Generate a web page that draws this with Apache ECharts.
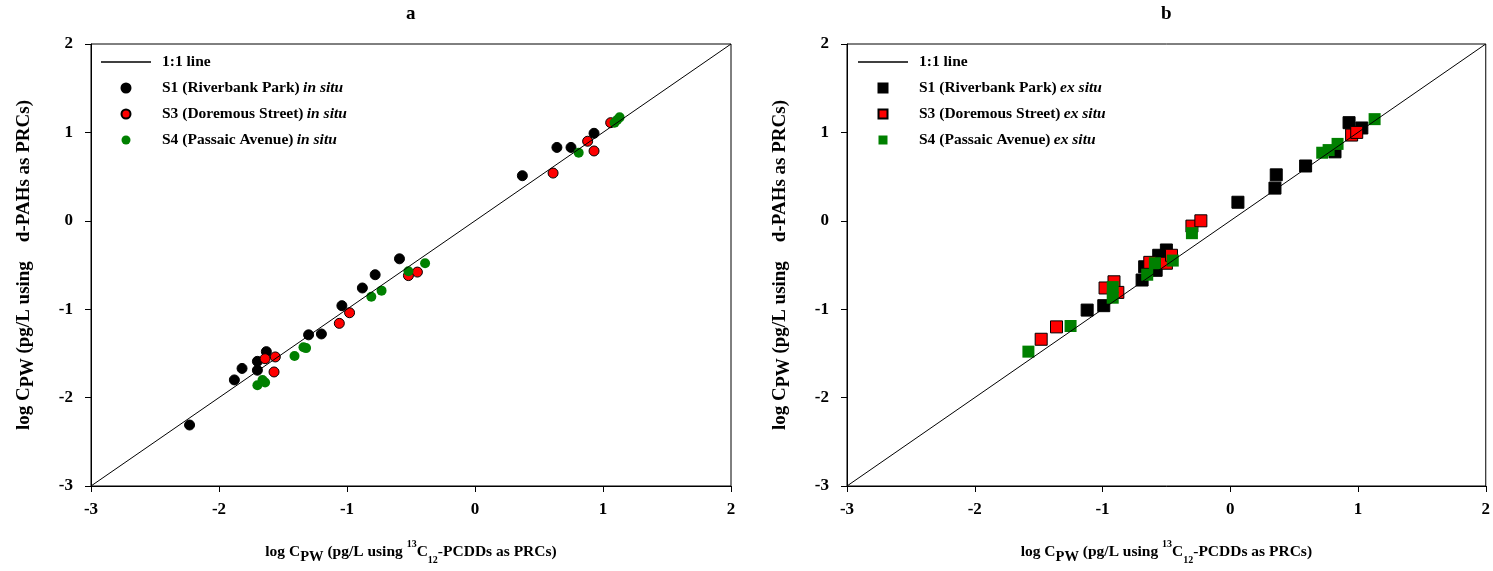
<!DOCTYPE html>
<html>
<head>
<meta charset="utf-8">
<script src="https://cdn.jsdelivr.net/npm/echarts@6/dist/echarts.min.js"></script>
<style>html,body{margin:0;padding:0;background:#fff}#c{width:1493px;height:571px}</style>
</head>
<body>
<div id="c"></div>
<script>
// ---- data (log Cpw values) ----
const ticks = [-3, -2, -1, 0, 1, 2];
const oneToOne = [[-3, -3], [2, 2]];
const sites = ['S1 (Riverbank Park)', 'S3 (Doremous Street)', 'S4 (Passaic Avenue)'];
const colors = ['#000000', '#ff0000', '#008000'];
// panel a (in situ)
const s1a = [[-2.23,-2.31],[-1.88,-1.80],[-1.82,-1.67],[-1.70,-1.69],[-1.70,-1.59],[-1.63,-1.48],[-1.30,-1.29],[-1.20,-1.28],[-1.04,-0.96],[-0.88,-0.76],[-0.78,-0.61],[-0.59,-0.43],[0.37,0.51],[0.64,0.83],[0.75,0.83],[0.93,0.99]];
const s3a = [[-1.64,-1.56],[-1.56,-1.54],[-1.57,-1.71],[-1.06,-1.16],[-0.98,-1.04],[-0.52,-0.62],[-0.45,-0.58],[0.61,0.54],[0.88,0.90],[0.93,0.79],[1.06,1.11]];
const s4a = [[-1.70,-1.86],[-1.66,-1.80],[-1.64,-1.83],[-1.41,-1.53],[-1.34,-1.43],[-1.32,-1.44],[-0.81,-0.86],[-0.73,-0.79],[-0.52,-0.57],[-0.39,-0.48],[0.81,0.77],[1.09,1.11],[1.11,1.14],[1.13,1.17]];
// panel b (ex situ)
const s1b = [[-1.12,-1.01],[-0.99,-0.96],[-0.69,-0.67],[-0.67,-0.52],[-0.58,-0.56],[-0.56,-0.39],[-0.50,-0.33],[0.06,0.21],[0.35,0.37],[0.36,0.52],[0.59,0.62],[0.82,0.78],[0.93,1.11],[1.03,1.05]];
const s3b = [[-1.48,-1.34],[-1.36,-1.20],[-0.98,-0.76],[-0.91,-0.69],[-0.88,-0.81],[-0.63,-0.47],[-0.50,-0.48],[-0.46,-0.39],[-0.30,-0.06],[-0.23,0.00],[0.95,0.97],[0.99,1.00]];
const s4b = [[-1.58,-1.48],[-1.25,-1.19],[-0.92,-0.75],[-0.92,-0.87],[-0.65,-0.61],[-0.59,-0.48],[-0.45,-0.45],[-0.30,-0.14],[0.72,0.77],[0.77,0.80],[0.84,0.87],[1.13,1.15]];

const FF = '"Liberation Serif","Times New Roman",serif';
const chart = echarts.init(document.getElementById('c'));

function richFor(fs) {
  return {
    n: {fontFamily: FF, fontWeight: 'bold', fontSize: fs, color: '#000', lineHeight: 26, verticalAlign: 'middle'},
    sub: {fontFamily: FF, fontWeight: 'bold', fontSize: fs - 1, color: '#000', lineHeight: 14, verticalAlign: 'bottom'},
    ssub: {fontFamily: FF, fontWeight: 'bold', fontSize: 10, color: '#000', lineHeight: 10, verticalAlign: 'bottom'},
    sup: {fontFamily: FF, fontWeight: 'bold', fontSize: 10, color: '#000', lineHeight: 10, verticalAlign: 'top'}
  };
}
const xName = '{n|log C}{sub|PW}{n| (pg/L using }{sup|13}{n|C}{ssub|12}{n|-PCDDs as PRCs)}';
const yName = '{n|log C}{sub|PW}{n| (pg/L using    d-PAHs as PRCs)}';

function xAxis(gi) {
  return {
    type: 'value', gridIndex: gi, min: ticks[0], max: ticks[ticks.length - 1], interval: 1,
    axisLine: {show: true, onZero: false, lineStyle: {color: '#000', width: 1}},
    axisTick: {show: true, inside: false, length: 6, lineStyle: {color: '#000'}},
    axisLabel: {fontFamily: FF, fontWeight: 'bold', fontSize: 17, color: '#000', margin: 15},
    splitLine: {show: false},
    name: xName, nameLocation: 'middle', nameGap: 53,
    nameTextStyle: {rich: richFor(15.5)}
  };
}
function yAxis(gi) {
  return {
    type: 'value', gridIndex: gi, min: ticks[0], max: ticks[ticks.length - 1], interval: 1,
    axisLine: {show: true, onZero: false, lineStyle: {color: '#000', width: 1}},
    axisTick: {show: true, inside: false, length: 6, lineStyle: {color: '#000'}},
    axisLabel: {fontFamily: FF, fontWeight: 'bold', fontSize: 17, color: '#000', margin: 18},
    splitLine: {show: false},
    name: yName, nameLocation: 'middle', nameGap: 54, nameRotate: 90,
    nameTextStyle: {rich: richFor(19)}
  };
}

function legendFmt(name) {
  const m = name.match(/^(.*) ((?:in|ex) situ)$/);
  if (m) return '{g|}{b|' + m[1] + '} {i|' + m[2] + '}';
  return '{g|}{b|' + name + '}';
}
const legendText = {
  lineHeight: 20,
  rich: {
    g: {width: 6},
    b: {fontFamily: FF, fontWeight: 'bold', fontSize: 15.5, color: '#000', lineHeight: 20},
    i: {fontFamily: FF, fontWeight: 'bold', fontStyle: 'italic', fontSize: 15.5, color: '#000', lineHeight: 20}
  }
};
const LINE_ICON = 'path://M0,0L50,0L50,1.6L0,1.6Z';
const SQ_ICON = 'path://M0,0L10,0L10,10L0,10Z';

function scatter(name, data, gi, ci, symbol, size) {
  return {
    type: 'scatter', name: name, xAxisIndex: gi, yAxisIndex: gi, data: data,
    symbol: symbol, symbolSize: size,
    itemStyle: {color: colors[ci], borderColor: ci === 2 ? colors[2] : '#000', borderWidth: ci === 2 ? 0 : 1, opacity: 1},
    emphasis: {disabled: true}
  };
}
const namesA = sites.map(s => s + ' in situ');
const namesB = sites.map(s => s + ' ex situ');

chart.setOption({
  animation: false,
  backgroundColor: '#fff',
  title: [
    {text: 'a', left: 406, top: 5, padding: 0, textStyle: {fontFamily: FF, fontWeight: 'bold', fontSize: 19, color: '#000'}},
    {text: 'b', left: 1161, top: 5, padding: 0, textStyle: {fontFamily: FF, fontWeight: 'bold', fontSize: 19, color: '#000'}}
  ],
  grid: [
    {left: 91, top: 44, width: 640, height: 442, show: true, borderColor: '#000', borderWidth: 1, containLabel: false},
    {left: 847, top: 44, width: 640, height: 442, show: true, borderColor: '#000', borderWidth: 1, containLabel: false}
  ],
  xAxis: [xAxis(0), xAxis(1)],
  yAxis: [yAxis(0), yAxis(1)],
  legend: [
    {orient: 'vertical', left: 101, top: 52, itemWidth: 50, itemHeight: 9, itemGap: 6, padding: 0,
     data: [{name: '1:1 line', icon: LINE_ICON}].concat(namesA.map(n => ({name: n, icon: 'circle'}))),
     formatter: legendFmt, textStyle: legendText, selectedMode: false},
    {orient: 'vertical', left: 858, top: 52, itemWidth: 50, itemHeight: 9, itemGap: 6, padding: 0,
     data: [{name: '1:1 line', icon: LINE_ICON}].concat(namesB.map(n => ({name: n, icon: SQ_ICON}))),
     formatter: legendFmt, textStyle: legendText, selectedMode: false}
  ],
  series: [
    {type: 'line', name: '1:1 line', xAxisIndex: 0, yAxisIndex: 0, data: oneToOne, symbol: 'none',
     itemStyle: {color: '#000'}, lineStyle: {color: '#000', width: 1}, silent: true},
    scatter(namesA[0], s1a, 0, 0, 'circle', 10),
    scatter(namesA[1], s3a, 0, 1, 'circle', 10),
    scatter(namesA[2], s4a, 0, 2, 'circle', 10),
    {type: 'line', name: '1:1 line', xAxisIndex: 1, yAxisIndex: 1, data: oneToOne, symbol: 'none',
     itemStyle: {color: '#000'}, lineStyle: {color: '#000', width: 1}, silent: true},
    scatter(namesB[0], s1b, 1, 0, 'rect', 12),
    scatter(namesB[1], s3b, 1, 1, 'rect', 12),
    scatter(namesB[2], s4b, 1, 2, 'rect', 12)
  ]
});
</script>
</body>
</html>
